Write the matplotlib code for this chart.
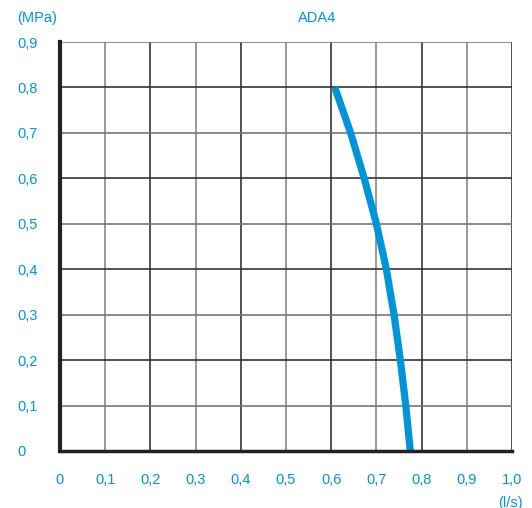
import matplotlib
matplotlib.use("Agg")
import matplotlib.pyplot as plt

# curve (flow l/s, pressure MPa)
flow = [0.608, 0.643, 0.673, 0.700, 0.722, 0.739, 0.753, 0.765, 0.775]
pressure = [0.80, 0.70, 0.60, 0.50, 0.40, 0.30, 0.20, 0.10, 0.00]

x_ticks = [0, 0.1, 0.2, 0.3, 0.4, 0.5, 0.6, 0.7, 0.8, 0.9, 1.0]
x_labels = ["0", "0,1", "0,2", "0,3", "0,4", "0,5", "0,6", "0,7", "0,8", "0,9", "1,0"]
y_ticks = [0, 0.1, 0.2, 0.3, 0.4, 0.5, 0.6, 0.7, 0.8, 0.9]
y_labels = ["0", "0,1", "0,2", "0,3", "0,4", "0,5", "0,6", "0,7", "0,8", "0,9"]

blue = "#0095d9"
plt.rcParams['font.family'] = ['Liberation Sans', 'DejaVu Sans']

fig = plt.figure(figsize=(5.32, 5.08), dpi=100)
ax = fig.add_axes([60 / 532, 57 / 508, 452 / 532, 409 / 508])

# grid lines, alternating dark and grey like the original
for i, v in enumerate(x_ticks[1:]):
    ax.axvline(v, color="#333333" if i % 2 else "#888888", lw=1.2, zorder=1)
for i, v in enumerate(y_ticks[1:]):
    ax.axhline(v, color="#333333" if i % 2 else "#777777", lw=1.2, zorder=1)

ax.plot(flow, pressure, color=blue, lw=5.2, solid_capstyle="butt",
        solid_joinstyle="round", zorder=3)

ax.set_xlim(0, 1.0)
ax.set_ylim(0, 0.9)
ax.set_xticks(x_ticks)
ax.set_xticklabels(x_labels)
ax.set_yticks(y_ticks)
ax.set_yticklabels(y_labels, ha="left")
ax.tick_params(axis="x", length=0, pad=16, labelcolor=blue, labelsize=10.5)
ax.tick_params(axis="y", length=0, pad=31, labelcolor=blue, labelsize=10.5)

for s in ["top", "right"]:
    ax.spines[s].set_visible(False)
ax.spines["left"].set_linewidth(3)
ax.spines["left"].set_color("#222222")
ax.spines["bottom"].set_linewidth(2.5)
ax.spines["bottom"].set_color("#222222")
ax.spines["left"].set_zorder(4)
ax.spines["bottom"].set_zorder(4)

fig.text(17 / 532, 1 - 18 / 508, "(MPa)", color=blue, fontsize=10.5, ha="left", va="center")
fig.text(317 / 532, 1 - 18 / 508, "ADA4", color=blue, fontsize=10.5, ha="center", va="center")
fig.text(510 / 532, 1 - 503 / 508, "(l/s)", color=blue, fontsize=10.5, ha="center", va="center")

fig.savefig("out.png", dpi=100)
